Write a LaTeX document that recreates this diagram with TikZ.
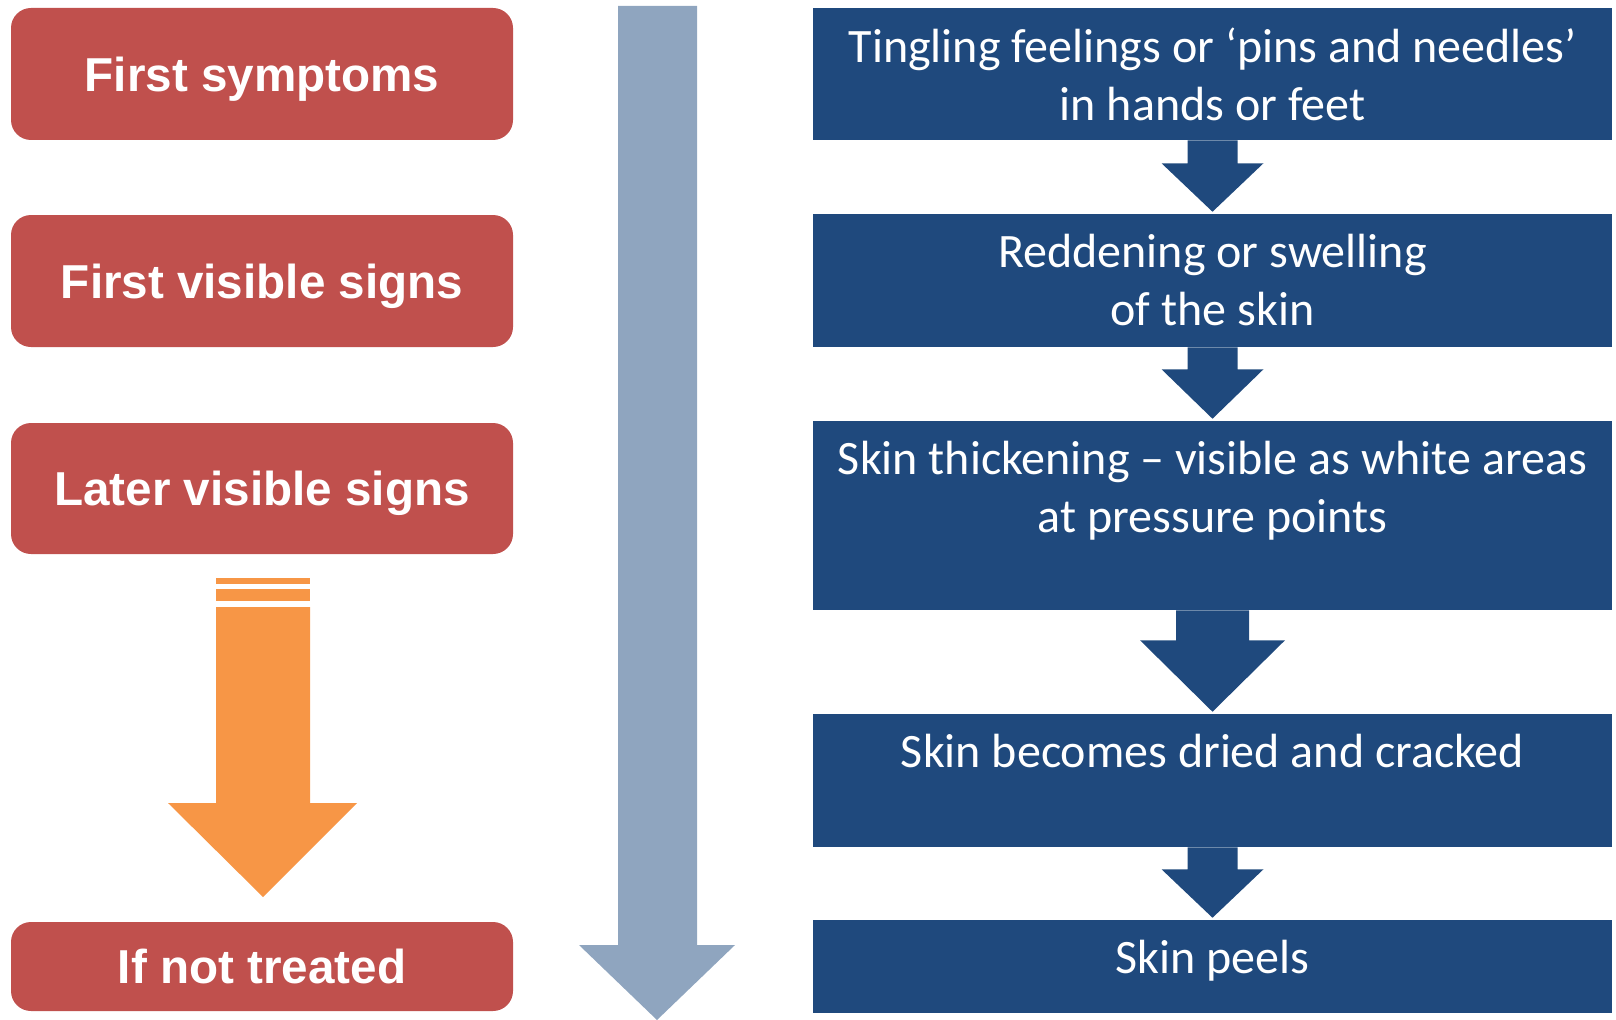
\documentclass[tikz,border=0pt]{standalone}
\usepackage{fontspec}
\newfontfamily\stagefont{Liberation Sans}
\newfontfamily\stepfont{Carlito}
\usetikzlibrary{calc}
\definecolor{stagered}{HTML}{C0504D}
\definecolor{flowblue}{HTML}{1F497D}
\definecolor{timegray}{HTML}{8FA5BF}
\definecolor{warnorange}{HTML}{F79646}
\begin{document}
\begin{tikzpicture}[x=0.75pt,y=-0.75pt,
  stage/.style={fill=stagered, rounded corners=15pt, minimum width=376.5pt,
    inner sep=0pt, text height=25.6pt, text depth=0pt, text=white,
    font=\stagefont\bfseries\fontsize{35.7}{42}\selectfont},
  stepbox/.style={fill=flowblue, minimum width=599.25pt, inner sep=0pt},
  steptext/.style={anchor=north, inner sep=0pt, text=white, align=center,
    font=\stepfont\fontsize{36}{43.5}\selectfont},
]
\useasboundingbox (0,0) rectangle (1616,1020);

% time axis running down the middle
\fill[timegray] (618,6) -- (697,6) -- (697,945) -- (735,945) -- (657,1020)
  -- (579,945) -- (618,945) -- cycle;

% stages on the left
\node[stage, minimum height=99pt]    (r1) at (262,74)    {First symptoms};
\node[stage, minimum height=99pt]    (r2) at (262,281)   {First visible signs};
\node[stage, minimum height=98.25pt] (r3) at (262,488.5) {Later visible signs};
\node[stage, minimum height=66.75pt] (r4) at (262,966.5) {If not treated};

% striped arrow towards the untreated stage
\fill[warnorange] (216,578) rectangle (310,584);
\fill[warnorange] (216,589) rectangle (310,601);
\fill[warnorange] (216,607) -- (310,607) -- (310,803) -- (357,803) -- (263,897)
  -- (168,803) -- (216,803) -- cycle;

% progression of skin changes on the right
\node[stepbox, minimum height=99pt]     (b1) at (1212.5,74)    {};
\node[stepbox, minimum height=99.75pt]  (b2) at (1212.5,280.5) {};
\node[stepbox, minimum height=141.75pt] (b3) at (1212.5,515.5) {};
\node[stepbox, minimum height=99.75pt]  (b4) at (1212.5,780.5) {};
\node[stepbox, minimum height=69.75pt]  (b5) at (1212.5,966.5) {};

\node[steptext] (t1) at ($(b1.north)+(0,20)$) {Tingling feelings or ‘pins and needles’\\in hands or feet};
\node[steptext] (t2) at ($(b2.north)+(0,20)$) {Reddening or swelling\\of the skin};
\node[steptext] (t3) at ($(b3.north)+(0,20)$) {Skin thickening – visible as white areas\\at pressure points};
\node[steptext] (t4) at ($(b4.north)+(0,20)$) {Skin becomes dried and cracked};
\node[steptext] (t5) at ($(b5.north)+(0,20)$) {Skin peels};

% block arrows between the steps
\fill[flowblue] ($(b1.south)+(-25,0)$) -- ($(b1.south)+(-25,23)$) -- ($(b1.south)+(-51,23)$)
  -- ($(b2.north)+(0,-2)$) -- ($(b1.south)+(51,23)$) -- ($(b1.south)+(25,23)$)
  -- ($(b1.south)+(25,0)$) -- cycle;
\fill[flowblue] ($(b2.south)+(-25,0)$) -- ($(b2.south)+(-25,22)$) -- ($(b2.south)+(-51,22)$)
  -- ($(b3.north)+(0,-2)$) -- ($(b2.south)+(51,22)$) -- ($(b2.south)+(25,22)$)
  -- ($(b2.south)+(25,0)$) -- cycle;
\fill[flowblue] ($(b3.south)+(-36.5,0)$) -- ($(b3.south)+(-36.5,30)$) -- ($(b3.south)+(-72.5,30)$)
  -- ($(b4.north)+(0,-2)$) -- ($(b3.south)+(72.5,30)$) -- ($(b3.south)+(36.5,30)$)
  -- ($(b3.south)+(36.5,0)$) -- cycle;
\fill[flowblue] ($(b4.south)+(-25,0)$) -- ($(b4.south)+(-25,22)$) -- ($(b4.south)+(-51,22)$)
  -- ($(b5.north)+(0,-2)$) -- ($(b4.south)+(51,22)$) -- ($(b4.south)+(25,22)$)
  -- ($(b4.south)+(25,0)$) -- cycle;
\end{tikzpicture}
\end{document}
